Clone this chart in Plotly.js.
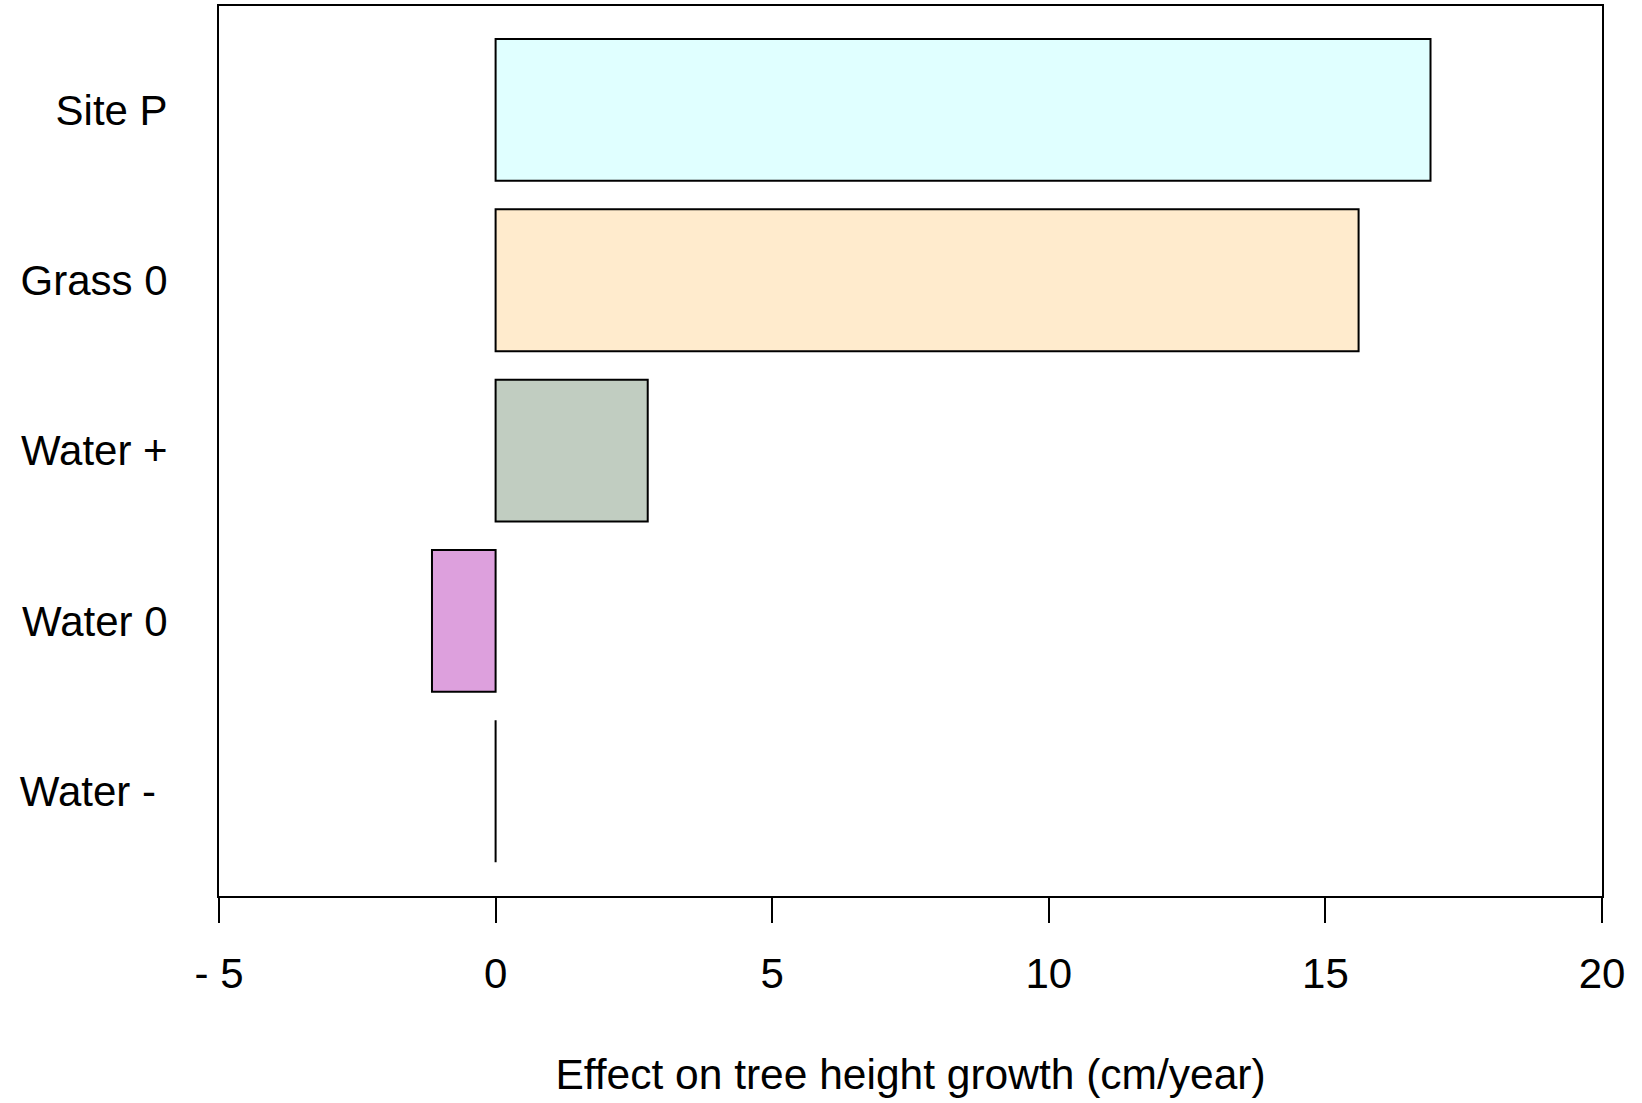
<!DOCTYPE html>
<html>
<head>
<meta charset="utf-8">
<script src="https://cdn.plot.ly/plotly-3.0.1.min.js"></script>
<style>html,body{margin:0;padding:0;background:#fff;}#chart{width:1642px;height:1103px;}</style>
</head>
<body>
<div id="chart"></div>
<script>
// Data (bottom to top order as drawn)
const categories = ["Water -\u00a0", "Water 0", "Water +", "Grass 0", "Site P"];
const effects = [0, -1.15, 2.75, 15.6, 16.9];
const barColors = ["#FFFFFF", "#DDA0DD", "#C1CDC1", "#FFEBCD", "#E0FFFF"];
const xTickVals = [-5, 0, 5, 10, 15, 20];
const xTickText = ["- 5", "0", "5", "10", "15", "20"];
const xTitle = "Effect on tree height growth (cm/year)";

const font = {family: "Liberation Sans, Arial, sans-serif", size: 42, color: "#000"};
const titleFont = {family: "Liberation Sans, Arial, sans-serif", size: 42.5, color: "#000"};

const trace = {
  type: "bar",
  orientation: "h",
  y: categories,
  x: effects,
  marker: {color: barColors, line: {color: "#000", width: 2}},
  hoverinfo: "x+y"
};

const layout = {
  width: 1642,
  height: 1103,
  margin: {l: 219, r: 40, t: 6, b: 207},
  paper_bgcolor: "#fff",
  plot_bgcolor: "#fff",
  showlegend: false,
  bargap: 0.167,
  font: font,
  xaxis: {
    range: [-5, 20],
    tickvals: xTickVals,
    ticktext: xTickText,
    ticks: "outside",
    ticklen: 25,
    tickwidth: 2,
    tickcolor: "#000",
    showline: true,
    linewidth: 2,
    linecolor: "#000",
    mirror: true,
    showgrid: false,
    zeroline: false,
    tickfont: font,
    ticklabelstandoff: 15,
    title: {text: xTitle, font: titleFont, standoff: 63}
  },
  yaxis: {
    type: "category",
    range: [-0.615, 4.61],
    ticks: "",
    showline: true,
    linewidth: 2,
    linecolor: "#000",
    mirror: true,
    showgrid: false,
    zeroline: false,
    tickfont: font,
    ticklabelstandoff: 41
  }
};

Plotly.newPlot("chart", [trace], layout, {displayModeBar: false, staticPlot: true});
</script>
</body>
</html>
